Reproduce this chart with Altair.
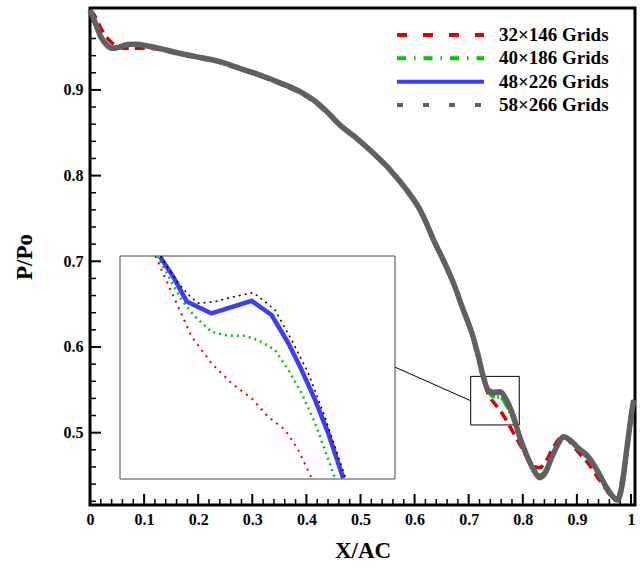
import altair as alt
import pandas as pd

# ---------------- data ----------------
SERIES = ["32×146 Grids", "40×186 Grids", "48×226 Grids", "58×266 Grids"]
COLORS = ["#dd0000", "#00c800", "#3c3cff", "#606060"]
LEGEND_DASH = [[10, 16], [9, 8, 1.5, 8], [1, 0], [6, 20]]
LEGEND_WIDTH = [4, 4, 3.5, 5.5]

X = [0.000, 0.005, 0.011, 0.020, 0.030, 0.042, 0.054, 0.070, 0.085, 0.104,
     0.128, 0.153, 0.178, 0.203, 0.240, 0.277, 0.314, 0.351, 0.388, 0.413,
     0.438, 0.462, 0.493, 0.524, 0.555, 0.585, 0.610, 0.622, 0.635, 0.653,
     0.672, 0.690, 0.706, 0.718, 0.727, 0.736, 0.746, 0.758, 0.770, 0.782,
     0.795, 0.807, 0.820, 0.831, 0.841, 0.854, 0.866, 0.875, 0.887, 0.903,
     0.921, 0.937, 0.952, 0.964, 0.975, 0.983, 0.992, 1.001, 1.005]

P_32 = [0.993, 0.990, 0.984, 0.972, 0.962, 0.954, 0.9495, 0.9485, 0.9485, 0.9490,
        0.9472, 0.9436, 0.9400, 0.9368, 0.9318, 0.9240, 0.9162, 0.9070, 0.8965, 0.8868,
        0.8732, 0.8578, 0.8425, 0.8250, 0.8055, 0.7825, 0.7590, 0.7430, 0.7237, 0.7005,
        0.6732, 0.6420, 0.6145, 0.5870, 0.5630, 0.5450, 0.5355, 0.5260, 0.5140, 0.5005,
        0.4860, 0.4720, 0.4610, 0.4590, 0.4650, 0.4800, 0.4920, 0.4965, 0.4895, 0.4770,
        0.4640, 0.4490, 0.4355, 0.4260, 0.4240, 0.4450, 0.4830, 0.5230, 0.5385]

P_40 = [0.993, 0.986, 0.976, 0.962, 0.953, 0.9485, 0.9495, 0.9520, 0.9525, 0.9510,
        0.9482, 0.9444, 0.9408, 0.9378, 0.9328, 0.9250, 0.9172, 0.9082, 0.8978, 0.8880,
        0.8744, 0.8588, 0.8433, 0.8258, 0.8063, 0.7833, 0.7598, 0.7441, 0.7247, 0.7013,
        0.6741, 0.6430, 0.6157, 0.5882, 0.5640, 0.5480, 0.5420, 0.5415, 0.5310, 0.5150,
        0.4920, 0.4735, 0.4575, 0.4510, 0.4550, 0.4730, 0.4880, 0.4955, 0.4905, 0.4800,
        0.4690, 0.4540, 0.4370, 0.4260, 0.4215, 0.4400, 0.4810, 0.5230, 0.5385]

P_48 = [0.993, 0.986, 0.976, 0.962, 0.953, 0.9490, 0.9500, 0.9530, 0.9532, 0.9516,
        0.9485, 0.9446, 0.9410, 0.9380, 0.9330, 0.9252, 0.9174, 0.9084, 0.8980, 0.8882,
        0.8746, 0.8590, 0.8435, 0.8260, 0.8065, 0.7835, 0.7600, 0.7443, 0.7249, 0.7015,
        0.6743, 0.6432, 0.6160, 0.5887, 0.5650, 0.5490, 0.5455, 0.5460, 0.5365, 0.5185,
        0.4930, 0.4740, 0.4565, 0.4475, 0.4526, 0.4720, 0.4876, 0.4953, 0.4915, 0.4818,
        0.4720, 0.4565, 0.4390, 0.4270, 0.4210, 0.4330, 0.4740, 0.5190, 0.5360]

P_58 = [0.993, 0.986, 0.976, 0.962, 0.953, 0.9485, 0.9500, 0.9530, 0.9532, 0.9516,
        0.9485, 0.9446, 0.9410, 0.9380, 0.9330, 0.9252, 0.9174, 0.9084, 0.8980, 0.8882,
        0.8746, 0.8590, 0.8435, 0.8260, 0.8065, 0.7835, 0.7600, 0.7443, 0.7249, 0.7015,
        0.6743, 0.6432, 0.6160, 0.5887, 0.5653, 0.5498, 0.5470, 0.5478, 0.5380, 0.5200,
        0.4935, 0.4740, 0.4565, 0.4475, 0.4526, 0.4720, 0.4876, 0.4953, 0.4915, 0.4818,
        0.4720, 0.4565, 0.4390, 0.4273, 0.4215, 0.4370, 0.4798, 0.5226, 0.5380]

# axis ticks / labels
X_MAJOR = [0, 0.1, 0.2, 0.3, 0.4, 0.5, 0.6, 0.7, 0.8, 0.9, 1]
X_MINOR = [0.02, 0.04, 0.06, 0.08, 0.12, 0.14, 0.16, 0.18, 0.22, 0.24, 0.26, 0.28,
           0.32, 0.34, 0.36, 0.38, 0.42, 0.44, 0.46, 0.48, 0.52, 0.54, 0.56, 0.58,
           0.62, 0.64, 0.66, 0.68, 0.72, 0.74, 0.76, 0.78, 0.82, 0.84, 0.86, 0.88,
           0.92, 0.94, 0.96, 0.98]
Y_MAJOR = [0.5, 0.6, 0.7, 0.8, 0.9]
Y_MINOR = [0.42, 0.44, 0.46, 0.48, 0.52, 0.54, 0.56, 0.58, 0.62, 0.64, 0.66, 0.68,
           0.72, 0.74, 0.76, 0.78, 0.82, 0.84, 0.86, 0.88, 0.92, 0.94, 0.96, 0.98]

# zoom box (in main data units) and connector line
BOX_X = [0.7037, 0.7935]
BOX_Y = [0.509, 0.5657]
CONN_X = [0.5638, 0.7037]
CONN_Y = [0.5765, 0.5373]

# inset curves (inset data units)
IN_32_X = [0.7153, 0.7173, 0.7217, 0.7271, 0.7336, 0.7402, 0.7467, 0.7521, 0.7576, 0.7619, 0.7663]
IN_32_Y = [0.5657, 0.5621, 0.5545, 0.5452, 0.5384, 0.5333, 0.5295, 0.5248, 0.5215, 0.5164, 0.5092]
IN_40_X = [0.7158, 0.7184, 0.7238, 0.7282, 0.7336, 0.7391, 0.7445, 0.7489, 0.7543, 0.7587, 0.7630, 0.7674, 0.7706, 0.7739]
IN_40_Y = [0.5657, 0.5621, 0.5545, 0.5503, 0.5464, 0.5454, 0.5454, 0.5443, 0.5418, 0.5367, 0.5308, 0.5232, 0.5164, 0.5092]
IN_48_X = [0.7168, 0.7211, 0.7255, 0.7336, 0.7467, 0.7532, 0.7587, 0.7630, 0.7674, 0.7717, 0.7766]
IN_48_Y = [0.5655, 0.5604, 0.5541, 0.5511, 0.5543, 0.5507, 0.5435, 0.5367, 0.5291, 0.5206, 0.5092]
IN_58_X = [0.7170, 0.7184, 0.7227, 0.7266, 0.7293, 0.7347, 0.7412, 0.7472, 0.7510, 0.7543, 0.7598, 0.7652, 0.7706, 0.7772]
IN_58_Y = [0.5657, 0.5638, 0.5588, 0.5554, 0.5537, 0.5541, 0.5554, 0.5564, 0.5541, 0.5520, 0.5443, 0.5359, 0.5248, 0.5096]

# ---------------- layout ----------------
W, H = 545, 497
FONT = "Liberation Serif"

main_x = alt.Scale(domain=[0, 1.0074], nice=False, zero=False)
main_y = alt.Scale(domain=[0.4156, 0.9956], nice=False, zero=False)
in_x = alt.Scale(domain=BOX_X, range=[30, 305], nice=False, zero=False)
in_y = alt.Scale(domain=BOX_Y, range=[471, 248], nice=False, zero=False)
leg_y = alt.Scale(domain=SERIES, type="point", range=[27, 97], padding=0)

x_axis = alt.Axis(values=X_MAJOR, format="~g", title="X/AC", ticks=False, domain=False,
                  grid=False, labelPadding=6, titlePadding=12, labelFlush=False)
y_axis = alt.Axis(values=Y_MAJOR, format=".1f", title="P/Po", ticks=False, domain=False,
                  grid=False, labelPadding=7, titlePadding=27, labelFlush=False)

color = alt.Color("grid:N", scale=alt.Scale(domain=SERIES, range=COLORS), legend=None)

styles = {
    SERIES[0]: dict(strokeWidth=3.5, strokeDash=[10, 6]),
    SERIES[1]: dict(strokeWidth=3, strokeDash=[14, 2, 2, 2]),
    SERIES[2]: dict(strokeWidth=3.5),
    SERIES[3]: dict(strokeWidth=5.5),
}
values = {SERIES[0]: P_32, SERIES[1]: P_40, SERIES[2]: P_48, SERIES[3]: P_58}

line_layers = []
for s in SERIES:
    df = pd.DataFrame({"x": X, "y": values[s], "grid": s})
    line_layers.append(
        alt.Chart(df).mark_line(interpolate="monotone", **styles[s]).encode(
            x=alt.X("x:Q", scale=main_x, axis=x_axis),
            y=alt.Y("y:Q", scale=main_y, axis=y_axis),
            color=color,
        )
    )

xt_major = alt.Chart(pd.DataFrame({"v": X_MAJOR})).mark_rule(color="black", strokeWidth=2).encode(
    x=alt.X("v:Q", scale=main_x, axis=x_axis), y=alt.value(H), y2=alt.value(H - 11))
xt_minor = alt.Chart(pd.DataFrame({"v": X_MINOR})).mark_rule(color="black", strokeWidth=1.5).encode(
    x=alt.X("v:Q", scale=main_x, axis=x_axis), y=alt.value(H), y2=alt.value(H - 6))
yt_major = alt.Chart(pd.DataFrame({"v": Y_MAJOR})).mark_rule(color="black", strokeWidth=2).encode(
    y=alt.Y("v:Q", scale=main_y, axis=y_axis), x=alt.value(0), x2=alt.value(11))
yt_minor = alt.Chart(pd.DataFrame({"v": Y_MINOR})).mark_rule(color="black", strokeWidth=1.5).encode(
    y=alt.Y("v:Q", scale=main_y, axis=y_axis), x=alt.value(0), x2=alt.value(6))

box = alt.Chart(pd.DataFrame({"x0": [BOX_X[0]], "x1": [BOX_X[1]],
                              "y0": [BOX_Y[0]], "y1": [BOX_Y[1]]})).mark_rect(
    fillOpacity=0, stroke="black", strokeWidth=1).encode(
    x=alt.X("x0:Q", scale=main_x, axis=x_axis), x2="x1",
    y=alt.Y("y0:Q", scale=main_y, axis=y_axis), y2="y1")
conn = alt.Chart(pd.DataFrame({"x0": [CONN_X[0]], "x1": [CONN_X[1]],
                               "y0": [CONN_Y[0]], "y1": [CONN_Y[1]]})).mark_rule(
    color="black", strokeWidth=1).encode(
    x=alt.X("x0:Q", scale=main_x, axis=x_axis), x2="x1",
    y=alt.Y("y0:Q", scale=main_y, axis=y_axis), y2="y1")

main = alt.layer(xt_minor, xt_major, yt_minor, yt_major, conn, box, *line_layers)

# inset
inset_frame = alt.Chart(pd.DataFrame({"x0": [BOX_X[0]], "x1": [BOX_X[1]],
                                      "y0": [BOX_Y[0]], "y1": [BOX_Y[1]]})).mark_rect(
    fill="white", stroke="#444444", strokeWidth=1).encode(
    x=alt.X("x0:Q", scale=in_x, axis=None), x2="x1",
    y=alt.Y("y0:Q", scale=in_y, axis=None), y2="y1")


def inset_line(xs, ys, **kw):
    return alt.Chart(pd.DataFrame({"x": xs, "y": ys})).mark_line(**kw).encode(
        x=alt.X("x:Q", scale=in_x, axis=None), y=alt.Y("y:Q", scale=in_y, axis=None))


inset = alt.layer(
    inset_frame,
    inset_line(IN_32_X, IN_32_Y, color=COLORS[0], strokeWidth=2, strokeDash=[2, 5]),
    inset_line(IN_40_X, IN_40_Y, color=COLORS[1], strokeWidth=2.5, strokeDash=[2, 4]),
    inset_line(IN_48_X, IN_48_Y, color="#3c3cff", strokeWidth=4.5),
    inset_line(IN_58_X, IN_58_Y, color="black", strokeWidth=1.5, strokeDash=[2, 4]),
)

# legend (drawn with its own point scale for the rows)
leg_df = pd.DataFrame({"grid": SERIES})
leg_lines = alt.Chart(leg_df).mark_rule().encode(
    x=alt.value(307), x2=alt.value(394),
    y=alt.Y("grid:N", scale=leg_y, axis=None),
    color=color,
    strokeDash=alt.StrokeDash("grid:N", scale=alt.Scale(domain=SERIES, range=LEGEND_DASH), legend=None),
    strokeWidth=alt.StrokeWidth("grid:N", scale=alt.Scale(domain=SERIES, range=LEGEND_WIDTH), legend=None),
)
leg_text = alt.Chart(leg_df).mark_text(
    align="left", baseline="middle", font=FONT, fontSize=19, fontWeight="bold", color="black"
).encode(
    x=alt.value(409), y=alt.Y("grid:N", scale=leg_y, axis=None), text="grid:N")
legend_layer = alt.layer(leg_lines, leg_text)

chart = alt.layer(main, inset, legend_layer).resolve_scale(
    x="independent", y="independent", color="shared"
).properties(
    width=W, height=H,
    autosize=alt.AutoSizeParams(type="none"),
    padding={"left": 90, "top": 8, "right": 8, "bottom": 62},
).configure_view(
    stroke="black", strokeWidth=3
).configure_axis(
    labelFont=FONT, labelFontSize=16, labelFontWeight="bold", labelColor="black",
    titleFont=FONT, titleFontSize=23, titleFontWeight="bold", titleColor="black",
)

chart.save("out.html", embed_options={"renderer": "svg", "actions": False})
